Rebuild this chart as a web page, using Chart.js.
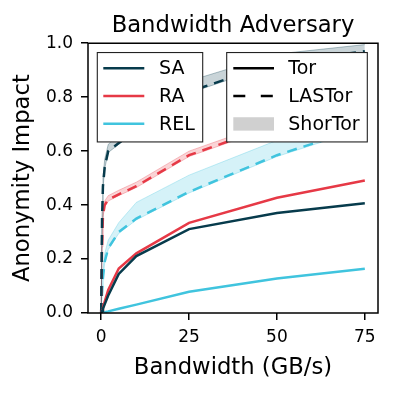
<!DOCTYPE html>
<html><head><meta charset="utf-8">
<script src="https://cdn.jsdelivr.net/npm/chart.js@4/dist/chart.umd.min.js"></script>
<style>html,body{margin:0;padding:0;background:#fff}canvas{display:block}</style>
</head><body>
<canvas id="c" width="398" height="393"></canvas>
<script>
// ---- data ----
const bandwidth = [0, 0.25, 0.5, 1, 2, 5, 10, 25, 50, 75];
const xTicks = [0, 25, 50, 75];
const yTicks = [0, 0.2, 0.4, 0.6, 0.8, 1.0];

const saTor  = [0, 0.008, 0.016, 0.032, 0.065, 0.145, 0.211, 0.311, 0.371, 0.407];
const raTor  = [0, 0.010, 0.020, 0.042, 0.085, 0.165, 0.221, 0.334, 0.427, 0.491];
const relTor = [0, 0.001, 0.002, 0.003, 0.006, 0.016, 0.031, 0.079, 0.128, 0.164];

const saLas  = [0, 0.35, 0.47, 0.54, 0.60, 0.630, 0.68, 0.82, 0.93, 0.970];
const raLas  = [0, 0.25, 0.36, 0.40, 0.42, 0.440, 0.47, 0.585, 0.70, 0.790];
const relLas = [0, 0.08, 0.13, 0.19, 0.24, 0.300, 0.35, 0.449, 0.585, 0.690];

const saShorLo  = [0, 0.34, 0.46, 0.535, 0.595, 0.625, 0.675, 0.815, 0.925, 0.965];
const saShorHi  = [0, 0.38, 0.50, 0.57, 0.625, 0.66, 0.71, 0.86, 0.96, 0.995];
const raShorLo  = [0, 0.245, 0.355, 0.395, 0.415, 0.435, 0.465, 0.58, 0.695, 0.785];
const raShorHi  = [0, 0.27, 0.38, 0.415, 0.435, 0.455, 0.485, 0.60, 0.715, 0.81];
const relShorLo = [0, 0.075, 0.125, 0.185, 0.235, 0.295, 0.345, 0.445, 0.58, 0.685];
const relShorHi = [0, 0.10, 0.16, 0.22, 0.27, 0.335, 0.41, 0.511, 0.64, 0.73];

const seriesNames = ['SA', 'RA', 'REL'];
const variantNames = ['Tor', 'LASTor', 'ShorTor'];
const colors = {SA: [7, 59, 76], RA: [230, 57, 70], REL: [64, 196, 222]};

// ---- build datasets ----
const FONT = 'DejaVu Sans';
const rgba = (c, a) => `rgba(${c[0]},${c[1]},${c[2]},${a})`;
const pts = ys => bandwidth.map((x, i) => ({x, y: ys[i]}));
const datasets = [];
function addBand(name, lo, hi) {
  const c = colors[name];
  const loIdx = datasets.length;
  datasets.push({label: name + ' ShorTor lo', data: pts(lo), borderColor: rgba(c, 0.3), borderWidth: 1,
    pointRadius: 0, fill: false, order: 3});
  datasets.push({label: name + ' ShorTor', data: pts(hi), borderColor: rgba(c, 0.3), borderWidth: 1,
    pointRadius: 0, fill: loIdx, backgroundColor: rgba(c, 0.22), order: 3});
}
function addLine(name, ys, dashed) {
  const c = colors[name];
  datasets.push({label: name + (dashed ? ' LASTor' : ' Tor'), data: pts(ys), borderColor: rgba(c, 1),
    borderWidth: 2.5, borderDash: dashed ? [10, 7] : [], pointRadius: 0, fill: false,
    order: dashed ? 2 : 1, borderCapStyle: 'butt'});
}
addBand('SA', saShorLo, saShorHi);
addBand('RA', raShorLo, raShorHi);
addBand('REL', relShorLo, relShorHi);
addLine('SA', saLas, true);
addLine('RA', raLas, true);
addLine('REL', relLas, true);
addLine('SA', saTor, false);
addLine('RA', raTor, false);
addLine('REL', relTor, false);

// ---- frame + custom legends ----
const framePlugin = {
  id: 'frameLegends',
  afterDatasetsDraw(chart) {
    const ctx = chart.ctx, ca = chart.chartArea;
    ctx.save();
    ctx.strokeStyle = '#000'; ctx.lineWidth = 1.5; ctx.setLineDash([]);
    ctx.strokeRect(ca.left, ca.top, ca.right - ca.left, ca.bottom - ca.top);

    function box(x0, y0, w, h) {
      ctx.fillStyle = '#fff';
      ctx.fillRect(x0, y0, w, h);
      ctx.strokeStyle = '#222'; ctx.lineWidth = 1.1; ctx.setLineDash([]);
      ctx.strokeRect(x0, y0, w, h);
    }
    ctx.font = `19px "${FONT}"`;
    ctx.textBaseline = 'middle'; ctx.textAlign = 'left';
    const rows = [15.6, 43.4, 71.2];
    // legend 1: series colours
    let x0 = ca.left + 9.3, y0 = ca.top + 9.3;
    box(x0, y0, 105.4, 89.4);
    seriesNames.forEach((n, i) => {
      const y = y0 + rows[i];
      ctx.strokeStyle = rgba(colors[n], 1); ctx.lineWidth = 2.5; ctx.setLineDash([]);
      ctx.beginPath(); ctx.moveTo(x0 + 6, y); ctx.lineTo(x0 + 47, y); ctx.stroke();
      ctx.fillStyle = '#000'; ctx.fillText(n, x0 + 61.7, y + 1);
    });
    // legend 2: variants
    x0 = ca.right - 10.7 - 140.6;
    box(x0, y0, 140.6, 89.4);
    variantNames.forEach((n, i) => {
      const y = y0 + rows[i];
      if (i < 2) {
        ctx.strokeStyle = '#000'; ctx.lineWidth = 2.5;
        ctx.setLineDash(i === 1 ? [12, 15.5] : []);
        ctx.beginPath(); ctx.moveTo(x0 + 6.6, y); ctx.lineTo(x0 + 47.3, y); ctx.stroke();
        ctx.setLineDash([]);
      } else {
        ctx.fillStyle = '#d0d0d0';
        ctx.fillRect(x0 + 6.6, y - 6.5, 40.7, 13.4);
      }
      ctx.fillStyle = '#000'; ctx.fillText(n, x0 + 61.6, y + 1);
    });
    ctx.restore();
  }
};

new Chart(document.getElementById('c'), {
  type: 'line',
  data: {datasets},
  options: {
    responsive: false, animation: false,
    layout: {padding: {left: 0, right: 20, top: 0, bottom: 0}},
    plugins: {
      legend: {display: false}, tooltip: {enabled: false},
      title: {display: true, text: 'Bandwidth Adversary', color: '#000', fullSize: false,
        font: {family: FONT, size: 22.7, weight: 'normal'}, padding: {top: 12, bottom: 4}}
    },
    elements: {line: {tension: 0}},
    scales: {
      x: {
        type: 'linear', min: -3.75, max: 78.75,
        afterBuildTicks: s => { s.ticks = xTicks.map(v => ({value: v})); },
        afterFit: s => { s.height = 80; },
        ticks: {color: '#000', font: {family: FONT, size: 17}, padding: 7.5, maxRotation: 0,
          callback: v => String(v)},
        grid: {display: true, drawOnChartArea: false, drawTicks: true, tickLength: 7, color: '#000', lineWidth: 1.5},
        border: {display: false},
        title: {display: true, text: 'Bandwidth (GB/s)', color: '#000',
          font: {family: FONT, size: 22.7}, padding: {top: 0, bottom: 11.7}}
      },
      y: {
        type: 'linear', min: 0, max: 1,
        afterBuildTicks: s => { s.ticks = yTicks.map(v => ({value: v})); },
        afterFit: s => { s.width = 88; },
        ticks: {color: '#000', font: {family: FONT, size: 17}, padding: 8,
          callback: v => Number(v).toFixed(1)},
        grid: {display: true, drawOnChartArea: false, drawTicks: true, tickLength: 7, color: '#000', lineWidth: 1.5},
        border: {display: false},
        title: {display: true, text: 'Anonymity Impact', color: '#000',
          font: {family: FONT, size: 22.7}, padding: {top: 9.5, bottom: 0}}
      }
    }
  },
  plugins: [framePlugin]
});
</script>
</body></html>
